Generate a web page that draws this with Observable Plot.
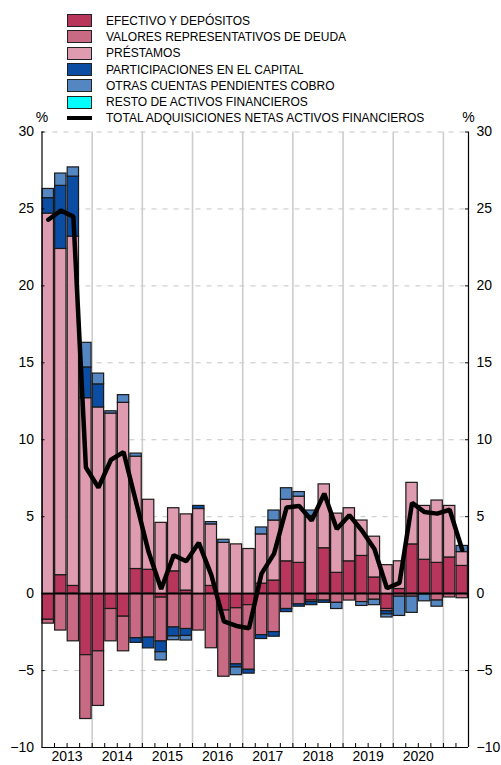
<!DOCTYPE html>
<html><head><meta charset="utf-8">
<script src="https://cdn.jsdelivr.net/npm/d3@7"></script>
<script src="https://cdn.jsdelivr.net/npm/@observablehq/plot@0.6"></script>
<style>
body{margin:0;background:#fff;font-family:"Liberation Sans",Arial,sans-serif;}
#wrap{position:relative;width:501px;height:765px;}
#legend{position:absolute;left:67px;top:12.5px;font-size:12px;color:#000;z-index:2;}
.row{display:flex;align-items:center;height:16.3px;white-space:nowrap;}
.sw{width:23px;height:11px;border:1px solid #222;margin-right:14px;box-sizing:content-box;}
.ln{width:25px;height:4px;background:#000;margin-right:14px;}
</style></head><body><div id="wrap"><div id="legend"></div></div>
<script>
// quarters 2013-I .. 2021-II
const periods = ["2013-I","2013-II","2013-III","2013-IV","2014-I","2014-II","2014-III","2014-IV",
"2015-I","2015-II","2015-III","2015-IV","2016-I","2016-II","2016-III","2016-IV",
"2017-I","2017-II","2017-III","2017-IV","2018-I","2018-II","2018-III","2018-IV",
"2019-I","2019-II","2019-III","2019-IV","2020-I","2020-II","2020-III","2020-IV","2021-I","2021-II"];
const yearLabels = [2013,2014,2015,2016,2017,2018,2019,2020];
const yTicks = [-10,-5,0,5,10,15,20,25,30];

const names = ["EFECTIVO Y DEPÓSITOS","VALORES REPRESENTATIVOS DE DEUDA","PRÉSTAMOS",
"PARTICIPACIONES EN EL CAPITAL","OTRAS CUENTAS PENDIENTES COBRO","RESTO DE ACTIVOS FINANCIEROS"];
const totalName = "TOTAL ADQUISICIONES NETAS ACTIVOS FINANCIEROS";
const colors = ["#B8365B","#C96A85","#DF9BB0","#0A4DA2","#5486C2","#00FFFF"];

const efectivo = [-1.7,1.2,0.5,-4.0,-3.75,-1.0,-1.5,1.6,1.55,-0.26,1.45,0.2,0,0.5,-1.1,-0.95,-0.75,0.65,0.85,2.1,2.0,-0.45,2.95,1.35,2.1,2.45,1.05,-1.0,0.3,3.2,2.2,2.0,2.35,1.8];
const valores = [-0.25,-2.4,-3.1,-4.15,-3.55,-2.1,-2.25,-2.9,-2.86,-2.85,-2.2,-2.3,-2.4,-3.55,-4.3,-3.65,-4.2,-2.7,-2.5,-1.0,-0.7,-0.1,-0.45,-0.6,-0.45,-0.55,-0.4,-0.15,-0.2,-0.2,-0.05,-0.45,-0.25,-0.3];
const prestamos = [24.7,21.2,22.7,12.7,12.1,11.7,12.4,7.3,4.55,4.6,4.1,4.95,5.5,4.0,3.3,3.2,2.9,3.2,3.9,4.0,4.3,5.05,4.15,3.85,3.45,2.3,2.65,1.85,1.8,4.0,3.5,4.05,3.35,0.9];
const participaciones = [1.0,4.1,3.9,2.0,1.5,0,0,-0.3,-0.7,-0.7,-0.58,-0.45,0.2,0,0,-0.2,-0.25,-0.25,-0.3,-0.2,-0.15,-0.2,-0.15,0,0,0,0,-0.2,0,0,0,0,0,0];
const otras = [0.6,0.8,0.6,1.6,0.7,0.15,0.5,0.2,0,-0.53,-0.25,-0.3,0,0.15,0.2,-0.5,0,0.45,0.65,0.75,0.3,0.35,0,-0.4,0,-0.25,-0.35,-0.2,-1.25,-1.05,-0.45,-0.4,0,0.4];
const resto = [0,0,0,0,0,0,0,0,0,0,0,0,0,0,0,0,0,0,0,0,0,0,0,0,0,0,0,0,0,0,0,0,0,0];
const total = [24.3,24.9,24.5,8.2,6.9,8.7,9.2,5.95,2.7,0.3,2.5,2.1,3.3,1.2,-1.8,-2.1,-2.25,1.3,2.6,5.6,5.7,4.75,6.5,4.2,5.1,4.1,2.9,0.35,0.7,5.9,5.3,5.2,5.45,2.85];

const seriesValues = [efectivo,valores,prestamos,participaciones,otras,resto];
const rows = [];
periods.forEach((p,i)=>{
  const t = 2013 + i/4;
  seriesValues.forEach((vals,k)=>rows.push({t, t2: t+0.25, serie: names[k], value: vals[i]}));
});
const totalRows = periods.map((p,i)=>({tm: 2013 + i/4 + 0.125, total: total[i]}));
const quarterBounds = periods.slice(1).map((p,i)=>2013 + (i+1)/4);

const chart = Plot.plot({
  width: 501, height: 765,
  marginLeft: 41.5, marginRight: 33, marginTop: 131.5, marginBottom: 18,
  style: {fontFamily: "'Liberation Sans', Arial, sans-serif", fontSize: "14px", background: "transparent", color: "#000"},
  x: {domain: [2013, 2021.5], label: null},
  y: {domain: [-10, 30], label: null},
  color: {domain: names, range: colors},
  marks: [
    Plot.ruleY([-5,5,10,15,20,25,30], {stroke: "#c4c4c4", strokeDasharray: "5,6", strokeWidth: 1}),
    Plot.ruleX([2014,2015,2016,2017,2018,2019,2020,2021], {stroke: "#cdcdcd", strokeWidth: 1.6}),
    Plot.rectY(rows, {x1: "t", x2: "t2", y: "value", fill: "serie", stroke: "#1a1a1a", strokeWidth: 1.2, insetLeft: 0.6, insetRight: 0.6}),
    Plot.ruleY([0], {stroke: "#000", strokeWidth: 1.5}),
    Plot.line(totalRows, {x: "tm", y: "total", stroke: "#000", strokeWidth: 4.5, strokeLinejoin: "miter"}),
    Plot.ruleX([2013, 2021.5], {stroke: "#000", strokeWidth: 1.2}),
    Plot.ruleY([-10], {stroke: "#000", strokeWidth: 1.2}),
    Plot.tickY(yTicks, {y: d=>d, stroke: "#000", insetRight: 423.5}),
    Plot.tickY(yTicks, {y: d=>d, stroke: "#000", insetLeft: 423.5}),
    Plot.tickX(quarterBounds, {x: d=>d, stroke: "#000", insetTop: 611.5}),
    Plot.axisY({anchor: "left", ticks: yTicks, tickSize: 0, tickPadding: 8, fontSize: 14}),
    Plot.axisY({anchor: "right", ticks: yTicks, tickSize: 0, tickPadding: 8, fontSize: 14}),
    Plot.axisX({ticks: yearLabels.map(y=>y+0.5), tickFormat: d=>String(Math.floor(d)), tickSize: 0, tickPadding: 4, fontSize: 14}),
    Plot.text(["%"], {x: 2013, y: 30, text: d=>d, dy: -14, fontSize: 14}),
    Plot.text(["%"], {x: 2021.5, y: 30, text: d=>d, dy: -14, fontSize: 14})
  ]
});
const wrap = document.getElementById("wrap");
wrap.insertBefore(chart, wrap.firstChild);
chart.style.position = "absolute"; chart.style.left = "0"; chart.style.top = "0";

const legend = document.getElementById("legend");
names.forEach((n,k)=>{
  const r = document.createElement("div"); r.className = "row";
  const s = document.createElement("div"); s.className = "sw"; s.style.background = colors[k];
  const tx = document.createElement("span"); tx.textContent = n;
  r.appendChild(s); r.appendChild(tx); legend.appendChild(r);
});
const r = document.createElement("div"); r.className = "row";
const l = document.createElement("div"); l.className = "ln";
const tx = document.createElement("span"); tx.textContent = totalName;
r.appendChild(l); r.appendChild(tx); legend.appendChild(r);
</script>
</body></html>
